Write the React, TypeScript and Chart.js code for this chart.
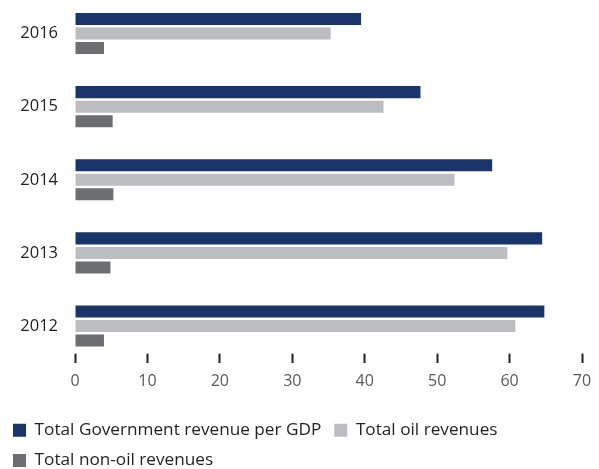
import React, { useEffect, useRef } from "react";
import { Chart, registerables } from "chart.js";

Chart.register(...registerables);

const categories = ["2016", "2015", "2014", "2013", "2012"];
const govRevenue = [39.5, 47.7, 57.6, 64.5, 64.8];
const oilRevenue = [35.3, 42.6, 52.4, 59.7, 60.8];
const nonOilRevenue = [4.0, 5.2, 5.3, 4.9, 4.0];
const seriesNames = [
  "Total Government revenue per GDP",
  "Total oil revenues",
  "Total non-oil revenues",
];
const xMin = 0;
const xMax = 70;
const xStep = 10;

const FONT = "'Open Sans', sans-serif";

export default function App() {
  const ref = useRef<HTMLCanvasElement>(null);

  useEffect(() => {
    if (!ref.current) return;
    const chart = new Chart(ref.current, {
      type: "bar",
      data: {
        labels: categories,
        datasets: [
          { label: seriesNames[0], data: govRevenue, backgroundColor: "#19356a" },
          { label: seriesNames[1], data: oilRevenue, backgroundColor: "#bcbdc0" },
          { label: seriesNames[2], data: nonOilRevenue, backgroundColor: "#6d6e71" },
        ],
      },
      options: {
        indexAxis: "y",
        animation: false,
        responsive: false,
        datasets: {
          bar: { categoryPercentage: 0.596, barPercentage: 0.83 },
        },
        layout: { padding: { left: 0, right: 17, top: 0, bottom: 0 } },
        plugins: {
          tooltip: { enabled: false },
          legend: {
            position: "bottom",
            align: "start",
            labels: {
              boxWidth: 13,
              boxHeight: 13,
              padding: 13,
              color: "#231f20",
              font: { family: FONT, size: 17.2 },
            },
          },
        },
        scales: {
          x: {
            min: xMin,
            max: xMax,
            border: { display: false },
            grid: {
              display: true,
              drawOnChartArea: false,
              drawTicks: true,
              tickLength: -9,
              tickWidth: 2,
              tickColor: "#231f20",
            },
            ticks: {
              stepSize: xStep,
              padding: 18,
              color: "#58595b",
              font: { family: FONT, size: 16 },
            },
            afterFit: (scale: any) => {
              scale.height = 46;
              scale.paddingLeft = 0;
              scale.paddingRight = 0;
            },
          },
          y: {
            border: { display: false },
            grid: { display: false, drawTicks: false },
            ticks: {
              padding: 17,
              color: "#231f20",
              font: { family: FONT, size: 16.5 },
            },
            afterFit: (scale: any) => {
              scale.width = 75;
              scale.paddingTop = 0;
              scale.paddingBottom = 0;
            },
          },
        },
      },
    });
    return () => chart.destroy();
  }, []);

  return (
    <div
      style={{
        position: "absolute",
        left: 0,
        top: 0,
        width: 599,
        height: 469,
        overflow: "hidden",
        background: "#fff",
      }}
    >
      <canvas
        ref={ref}
        width={599}
        height={482}
        style={{ position: "absolute", left: 0, top: -3, width: 599, height: 482 }}
      />
    </div>
  );
}
